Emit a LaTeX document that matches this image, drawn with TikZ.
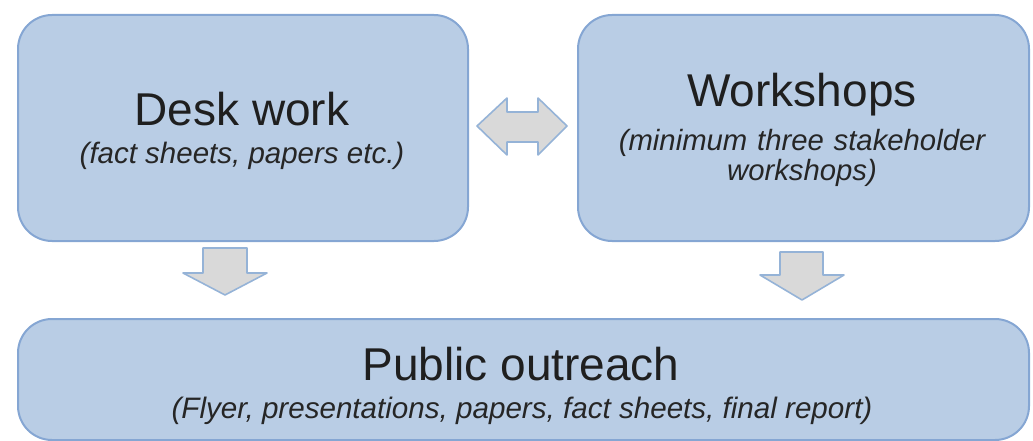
\documentclass[tikz,border=0pt]{standalone}
\usepackage{fontspec}
\setmainfont{Liberation Sans}
\begin{document}
\definecolor{boxfill}{HTML}{B9CDE5}
\definecolor{boxline}{HTML}{85A6D3}
\definecolor{arrfill}{HTML}{D9D9D9}
\definecolor{arrline}{HTML}{95B3D7}
\begin{tikzpicture}[x=1pt,y=-1pt,
  panel/.style={draw=boxline, fill=boxfill, line width=2pt, rounded corners=34pt, inner sep=0pt, anchor=north west},
  blockarrow/.style={draw=arrline, fill=arrfill, line width=1.6pt, line join=round},
  title/.style={font=\fontsize{46}{50}\selectfont, text=black!88, anchor=base, inner sep=0pt},
  note/.style={font=\fontsize{29.5}{30}\selectfont\itshape, text=black!85, anchor=base, inner sep=0pt, align=center}]
\useasboundingbox (0,0) rectangle (1033,441);

% three panels
\node[panel, minimum width=450pt, minimum height=226pt] (desk) at (17,14) {};
\node[panel, minimum width=451pt, minimum height=226pt] (shop) at (577,14) {};
\node[panel, minimum width=1011pt, minimum height=121pt] (pub) at (17,318) {};

% panel texts
\node[title] (deskT) at (242,126) {Desk work};
\node[note] (deskN) at (242,163) {(fact sheets, papers etc.)};
\node[title] (shopT) at (802,107) {Workshops};
\node[note, text width=420pt, font=\fontsize{29.3}{30}\selectfont\itshape] (shopN) at (802,150) {(minimum three stakeholder\\workshops)};
\node[title] (pubT) at (521,380) {Public outreach};
\node[note, font=\fontsize{29.6}{30}\selectfont\itshape] (pubN) at (522,418) {(Flyer, presentations, papers, fact sheets, final report)};

% two-way exchange between desk work and workshops
\draw[blockarrow] (477,126) -- (507,98) -- (507,112) -- (538,112) -- (538,98)
  -- (567,126) -- (538,155) -- (538,142) -- (507,142) -- (507,155) -- cycle;

% flows into public outreach
\draw[blockarrow] (203,248) -- (247,248) -- (247,273) -- (267,273) -- (225,295)
  -- (183,273) -- (203,273) -- cycle;
\draw[blockarrow] (780,252) -- (823,252) -- (823,275) -- (844,275) -- (802,300)
  -- (760,275) -- (780,275) -- cycle;
\end{tikzpicture}
\end{document}
